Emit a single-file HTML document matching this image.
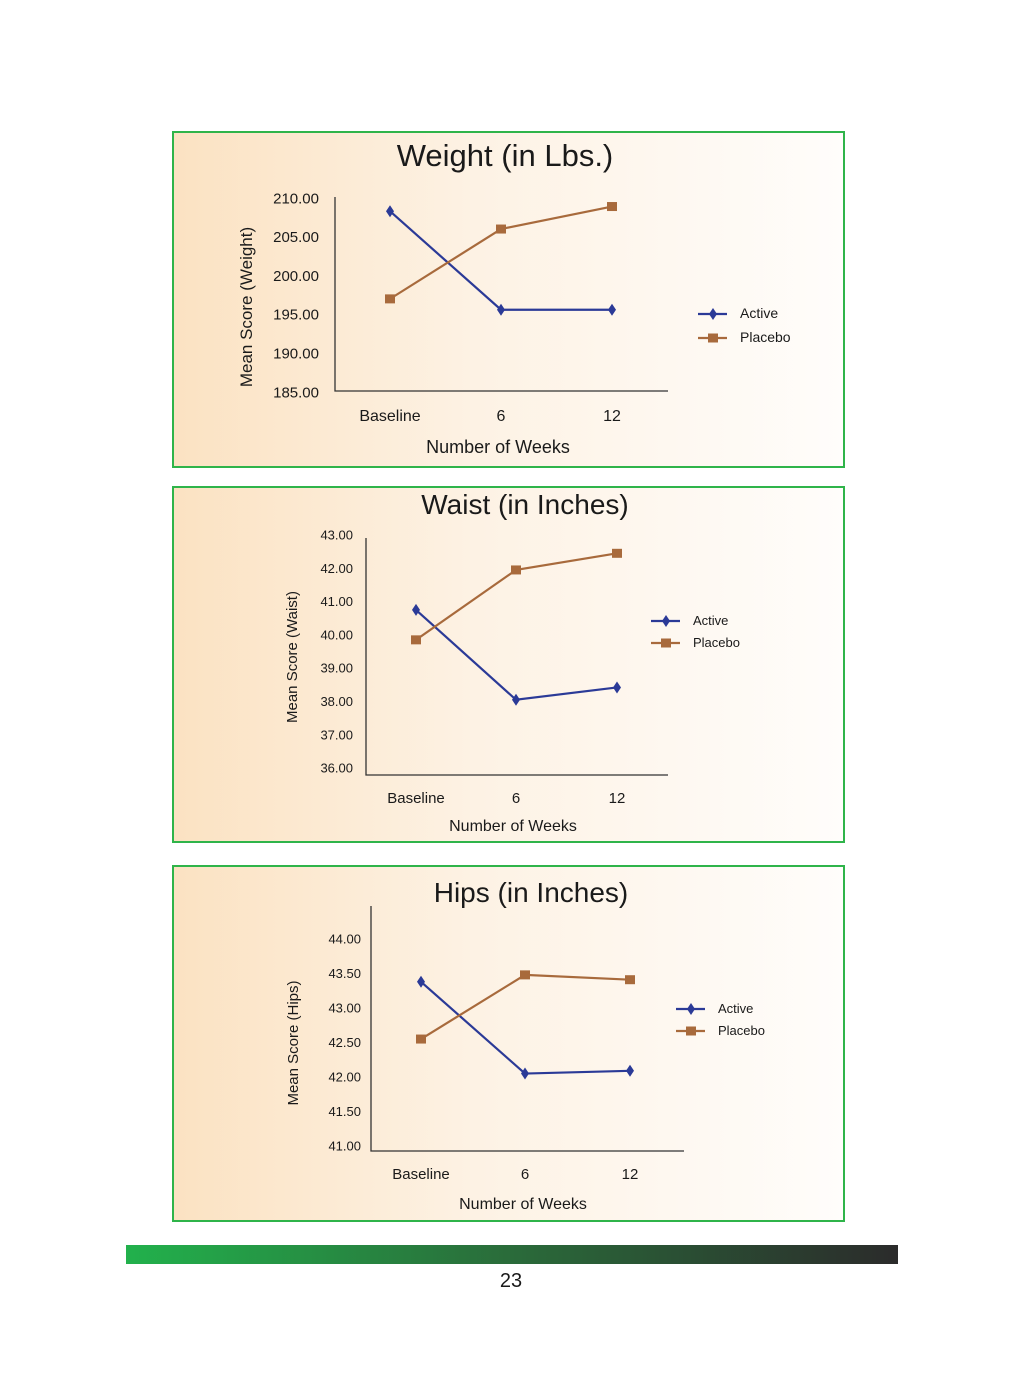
<!DOCTYPE html>
<html><head><meta charset="utf-8">
<style>
html,body{margin:0;padding:0;background:#fff;}
body{width:1024px;height:1371px;overflow:hidden;position:relative;font-family:"Liberation Sans Narrow","Liberation Sans",sans-serif;}
svg text{font-family:"Liberation Sans Narrow","Liberation Sans",sans-serif;fill:#1a1a1a;}
</style></head>
<body>
<svg id="page" width="1024" height="1371" viewBox="0 0 1024 1371" xmlns="http://www.w3.org/2000/svg">
<defs>
<linearGradient id="bg" x1="0" x2="1" y1="0" y2="0">
<stop offset="0" stop-color="#fbe2c2"/><stop offset="0.45" stop-color="#fdf2e4"/><stop offset="1" stop-color="#fffdfb"/>
</linearGradient>
<linearGradient id="bar" x1="0" x2="1" y1="0" y2="0">
<stop offset="0" stop-color="#22b14c"/><stop offset="0.5" stop-color="#2a6b3a"/><stop offset="1" stop-color="#2b2b2b"/>
</linearGradient>
</defs>
<rect x="126" y="1245" width="772" height="19" fill="url(#bar)"/>
<text x="511" y="1287" font-size="20" text-anchor="middle">23</text>
</svg>
<script>
const categories = ["Baseline","6","12"];
const weightActive = [208.3, 195.6, 195.6];
const weightPlacebo = [197.0, 206.0, 208.9];
const weightTicks = ["210.00","205.00","200.00","195.00","190.00","185.00"];
const waistActive = [40.75, 38.05, 38.42];
const waistPlacebo = [39.85, 41.95, 42.45];
const waistTicks = ["43.00","42.00","41.00","40.00","39.00","38.00","37.00","36.00"];
const hipsActive = [43.38, 42.05, 42.09];
const hipsPlacebo = [42.55, 43.48, 43.41];
const hipsTicks = ["44.00","43.50","43.00","42.50","42.00","41.50","41.00"];

const NS="http://www.w3.org/2000/svg";
const svg=document.getElementById('page');
function mk(tag,attrs,parent){const e=document.createElementNS(NS,tag);for(const k in attrs)e.setAttribute(k,attrs[k]);(parent||svg).appendChild(e);return e;}

const charts=[
 {key:'weight',title:'Weight (in Lbs.)',ylab:'Mean Score (Weight)',active:weightActive,placebo:weightPlacebo,ticks:weightTicks,vmax:210,vmin:185,
  box:[172,131,673,337],titleX:505,titleY:166,titleSize:31,ax:[335,197,668,391],tY0:198,tY1:392,tickX:319,tickSize:15,xs:[390,501,612],catY:421,catSize:16,
  xtX:498,xtY:453,xtSize:18,ylX:252,ylY:307,ylSize:17,legX:698,legY:[314,338],legSize:14},
 {key:'waist',title:'Waist (in Inches)',ylab:'Mean Score (Waist)',active:waistActive,placebo:waistPlacebo,ticks:waistTicks,vmax:43,vmin:36,
  box:[172,486,673,357],titleX:525,titleY:514,titleSize:28,ax:[366,538,668,775],tY0:535,tY1:768,tickX:353,tickSize:13,xs:[416,516,617],catY:803,catSize:15,
  xtX:513,xtY:831,xtSize:16,ylX:297,ylY:657,ylSize:15,legX:651,legY:[621,643],legSize:13},
 {key:'hips',title:'Hips (in Inches)',ylab:'Mean Score (Hips)',active:hipsActive,placebo:hipsPlacebo,ticks:hipsTicks,vmax:44,vmin:41,
  box:[172,865,673,357],titleX:531,titleY:902,titleSize:28,ax:[371,906,684,1151],tY0:939,tY1:1146,tickX:361,tickSize:13,xs:[421,525,630],catY:1179,catSize:15,
  xtX:523,xtY:1209,xtSize:16,ylX:298,ylY:1043,ylSize:15,legX:676,legY:[1009,1031],legSize:13}
];

charts.forEach(c=>{
 const g=mk('g',{});
 
 
 const [bx,by,bw,bh]=c.box;
 const panel=mk('rect',{x:bx+1,y:by+1,width:bw-2,height:bh-2,fill:'url(#bg)',stroke:'#2fb44a','stroke-width':2},g);
 
 
 const t=mk('text',{x:c.titleX,y:c.titleY,'font-size':c.titleSize,'text-anchor':'middle'},g);t.textContent=c.title;
 
 
 const yv=v=>c.tY0+(c.vmax-v)/(c.vmax-c.vmin)*(c.tY1-c.tY0);
 const [x0,y0,x1,y1]=c.ax;
 const axes=mk('path',{d:`M${x0} ${y0}V${y1}H${x1}`,fill:'none',stroke:'#333','stroke-width':1.3},g);
 
 
 const n=c.ticks.length;
 c.ticks.forEach((lab,i)=>{
  const v=c.vmax-(c.vmax-c.vmin)*i/(n-1);
  const tt=mk('text',{x:c.tickX,y:yv(v)+c.tickSize*0.35,'font-size':c.tickSize,'text-anchor':'end'},g);tt.textContent=lab;
  
  
 });
 categories.forEach((cat,i)=>{
  const tt=mk('text',{x:c.xs[i],y:c.catY,'font-size':c.catSize,'text-anchor':'middle'},g);tt.textContent=cat;
  
  
 });
 const xt=mk('text',{x:c.xtX,y:c.xtY,'font-size':c.xtSize,'text-anchor':'middle'},g);xt.textContent='Number of  Weeks';
 
 
 const yl=mk('text',{x:c.ylX,y:c.ylY,'font-size':c.ylSize,'text-anchor':'middle',transform:`rotate(-90 ${c.ylX} ${c.ylY})`,'font-family':'Liberation Sans, sans-serif'},g);yl.textContent=c.ylab;
 
 
 const series=[['active',c.active,'#2b3a97'],['placebo',c.placebo,'#a86a3c']];
 series.forEach(([nm,vals,col])=>{
  const pts=vals.map((v,i)=>[c.xs[i],yv(v)]);
  const ln=mk('polyline',{points:pts.map(p=>p.join(',')).join(' '),fill:'none',stroke:col,'stroke-width':2.2},g);
  
  
  pts.forEach(([px,py])=>{
   let m;
   if(nm==='active') m=mk('path',{d:`M${px} ${py-6}L${px+4} ${py}L${px} ${py+6}L${px-4} ${py}Z`,fill:col},g);
   else m=mk('rect',{x:px-5,y:py-4.5,width:10,height:9,fill:col},g);
   
   
  });
 });
 series.forEach(([nm,vals,col],k)=>{
  const ly=c.legY[k];
  const lg=mk('g',{},g);
  
  
  mk('line',{x1:c.legX,y1:ly,x2:c.legX+29,y2:ly,stroke:col,'stroke-width':2.2},lg);
  const cx=c.legX+15;
  if(nm==='active') mk('path',{d:`M${cx} ${ly-6}L${cx+4} ${ly}L${cx} ${ly+6}L${cx-4} ${ly}Z`,fill:col},lg);
  else mk('rect',{x:cx-5,y:ly-4.5,width:10,height:9,fill:col},lg);
  const lt=mk('text',{x:c.legX+42,y:ly+c.legSize*0.3,'font-size':c.legSize},lg);lt.textContent=nm==='active'?'Active':'Placebo';
 });
});
</script>
</body></html>
